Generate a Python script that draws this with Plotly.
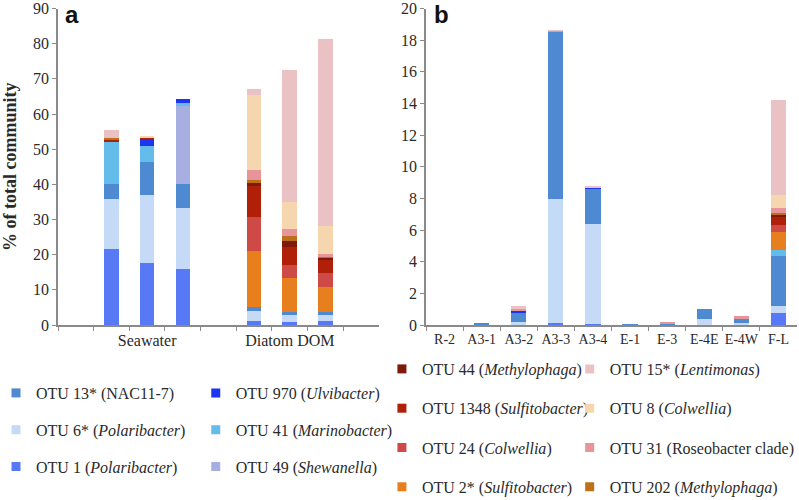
import plotly.graph_objects as go

# ---------------- data ----------------
a_samples = ["Seawater 1", "Seawater 2", "Seawater 3", "Diatom DOM 1", "Diatom DOM 2", "Diatom DOM 3"]
a_slots = ["gap0", "Seawater 1", "Seawater 2", "Seawater 3", "gap1",
           "Diatom DOM 1", "Diatom DOM 2", "Diatom DOM 3", "gap2"]
a_slot_labels = ["", "", "Seawater", "", "", "", "Diatom DOM", "", ""]
b_samples = ["R-2", "A3-1", "A3-2", "A3-3", "A3-4", "E-1", "E-3", "E-4E", "E-4W", "F-L"]

otu_names = [
    "OTU 1 (<i>Polaribacter</i>)",
    "OTU 6* (<i>Polaribacter</i>)",
    "OTU 13* (NAC11-7)",
    "OTU 49 (<i>Shewanella</i>)",
    "OTU 41 (<i>Marinobacter</i>)",
    "OTU 970 (<i>Ulvibacter</i>)",
    "OTU 2* (<i>Sulfitobacter</i>)",
    "OTU 24 (<i>Colwellia</i>)",
    "OTU 1348 (<i>Sulfitobacter</i>)",
    "OTU 44 (<i>Methylophaga</i>)",
    "OTU 202 (<i>Methylophaga</i>)",
    "OTU 31 (Roseobacter clade)",
    "OTU 8 (<i>Colwellia</i>)",
    "OTU 15* (<i>Lentimonas</i>)",
]
otu_colors = ["#5779F6", "#C4DAF6", "#4E8AD2", "#A7AEE2", "#64BCEA", "#1C35F2",
              "#E77F1E", "#CD4A47", "#B02008", "#7E1A0C", "#BD7019", "#E7959A",
              "#F5D6AE", "#EBC2C4"]

# panel a values (% of total community)
a_otu1 = [21.5, 17.7, 15.8, 1.2, 0.9, 1.2]
a_otu6 = [14.2, 19.4, 17.5, 2.8, 2.2, 1.6]
a_otu13 = [4.5, 9.3, 6.9, 1.0, 0.5, 0.8]
a_otu49 = [0, 0, 22.0, 0, 0, 0]
a_otu41 = [11.9, 4.5, 0.8, 0, 0, 0]
a_otu970 = [0, 2.3, 1.3, 0, 0, 0]
a_otu2 = [0, 0, 0, 16.1, 9.8, 7.1]
a_otu24 = [0, 0, 0, 9.7, 3.8, 4.2]
a_otu1348 = [0.7, 0.2, 0, 8.8, 5.0, 3.5]
a_otu44 = [0, 0, 0, 0.8, 1.7, 0.8]
a_otu202 = [0.5, 0, 0, 0.8, 1.4, 0.2]
a_otu31 = [0, 0, 0, 3.0, 2.1, 0.7]
a_otu8 = [0, 0.3, 0, 21.3, 7.6, 8.0]
a_otu15 = [2.1, 0, 0, 1.5, 37.4, 53.1]

# panel b values
b_otu1 = [0, 0.02, 0, 0.1, 0.08, 0.03, 0.05, 0, 0, 0.78]
b_otu6 = [0, 0.03, 0.2, 7.86, 6.28, 0, 0, 0.36, 0.12, 0.42]
b_otu13 = [0, 0.08, 0.54, 10.61, 2.27, 0.05, 0.07, 0.65, 0.32, 3.16]
b_otu49 = [0, 0, 0, 0, 0, 0, 0, 0, 0, 0]
b_otu41 = [0, 0, 0, 0, 0, 0, 0, 0, 0.03, 0.38]
b_otu970 = [0, 0, 0.14, 0, 0.07, 0, 0, 0, 0, 0]
b_otu2 = [0, 0, 0, 0, 0, 0, 0, 0, 0, 1.16]
b_otu24 = [0, 0, 0, 0, 0, 0, 0, 0, 0, 0.45]
b_otu1348 = [0, 0, 0, 0, 0, 0, 0, 0, 0, 0.49]
b_otu44 = [0, 0, 0, 0, 0, 0, 0, 0, 0, 0.16]
b_otu202 = [0, 0, 0, 0, 0, 0, 0, 0, 0, 0.1]
b_otu31 = [0, 0, 0.22, 0.07, 0.03, 0, 0.1, 0, 0.1, 0.27]
b_otu8 = [0, 0, 0, 0, 0, 0, 0, 0, 0, 0.83]
b_otu15 = [0, 0, 0.1, 0.03, 0.03, 0, 0, 0, 0, 6.0]

a_values = [a_otu1, a_otu6, a_otu13, a_otu49, a_otu41, a_otu970, a_otu2, a_otu24,
            a_otu1348, a_otu44, a_otu202, a_otu31, a_otu8, a_otu15]
b_values = [b_otu1, b_otu6, b_otu13, b_otu49, b_otu41, b_otu970, b_otu2, b_otu24,
            b_otu1348, b_otu44, b_otu202, b_otu31, b_otu8, b_otu15]

# legend placement: which legend box each OTU belongs to (order within box)
legend_columns = {
    "legend": ["OTU 13* (NAC11-7)", "OTU 6* (<i>Polaribacter</i>)", "OTU 1 (<i>Polaribacter</i>)"],
    "legend2": ["OTU 970 (<i>Ulvibacter</i>)", "OTU 41 (<i>Marinobacter</i>)", "OTU 49 (<i>Shewanella</i>)"],
    "legend3": ["OTU 44 (<i>Methylophaga</i>)", "OTU 1348 (<i>Sulfitobacter</i>)",
                "OTU 24 (<i>Colwellia</i>)", "OTU 2* (<i>Sulfitobacter</i>)"],
    "legend4": ["OTU 15* (<i>Lentimonas</i>)", "OTU 8 (<i>Colwellia</i>)",
                "OTU 31 (Roseobacter clade)", "OTU 202 (<i>Methylophaga</i>)"],
}

# ---------------- figure ----------------
fig = go.Figure()
for name, color, av, bv in zip(otu_names, otu_colors, a_values, b_values):
    fig.add_trace(go.Bar(x=a_samples, y=av, name=name, marker=dict(color=color, line=dict(width=0)),
                         legendgroup=name, showlegend=False, xaxis="x", yaxis="y"))
    fig.add_trace(go.Bar(x=b_samples, y=bv, name=name, marker=dict(color=color, line=dict(width=0)),
                         legendgroup=name, showlegend=False, xaxis="x2", yaxis="y2"))

for leg, names in legend_columns.items():
    for name in names:
        color = otu_colors[otu_names.index(name)]
        fig.add_trace(go.Scatter(x=[None], y=[None], mode="markers", name=name,
                                 marker=dict(symbol="square", size=9, color=color),
                                 legendgroup=name, showlegend=True, legend=leg,
                                 xaxis="x2", yaxis="y2"))

serif = "Liberation Serif"
axis_color = "#8a8a8a"
text_color = "#2a2a2a"

fig.update_layout(
    width=799, height=500,
    margin=dict(l=0, r=0, t=0, b=0, autoexpand=False),
    paper_bgcolor="white", plot_bgcolor="white",
    barmode="stack", bargap=0.59,
    font=dict(family=serif, size=16, color=text_color),
    xaxis=dict(domain=[0.0726, 0.4743], type="category", categoryorder="array",
               categoryarray=a_slots, range=[-0.5, 8.5],
               tickmode="array", tickvals=a_slots, ticktext=a_slot_labels, tickangle=0,
               tickson="boundaries", ticks="outside", ticklen=4, tickcolor=axis_color,
               showline=True, linecolor=axis_color, linewidth=1.5, showgrid=False,
               tickfont=dict(family=serif, size=16, color=text_color)),
    yaxis=dict(domain=[0.35, 0.983], range=[0, 90], dtick=10, ticks="outside", ticklen=4,
               tickcolor=axis_color, showline=True, linecolor=axis_color, linewidth=1.5,
               showgrid=False, zeroline=False,
               tickfont=dict(family=serif, size=16, color=text_color),
               title=dict(text="<b>% of total community</b>",
                          font=dict(family=serif, size=18, color=text_color), standoff=12)),
    xaxis2=dict(domain=[0.5332, 0.9975], type="category", categoryorder="array",
                categoryarray=b_samples, range=[-0.5, 9.5], tickangle=0,
                tickson="boundaries", ticks="outside", ticklen=4, tickcolor=axis_color,
                showline=True, linecolor=axis_color, linewidth=1.5, showgrid=False,
                tickfont=dict(family=serif, size=14, color=text_color)),
    yaxis2=dict(domain=[0.35, 0.983], range=[0, 20], dtick=2, ticks="outside", ticklen=4,
                tickcolor=axis_color, showline=True, linecolor=axis_color, linewidth=1.5,
                showgrid=False, zeroline=False, anchor="x2",
                tickfont=dict(family=serif, size=16, color=text_color)),
    annotations=[
        dict(text="<b>a</b>", x=0.080, y=1.0, xref="paper", yref="paper",
             xanchor="left", yanchor="top", showarrow=False, borderpad=0,
             font=dict(family="Liberation Sans", size=24, color="#111")),
        dict(text="<b>b</b>", x=0.542, y=1.0, xref="paper", yref="paper",
             xanchor="left", yanchor="top", showarrow=False, borderpad=0,
             font=dict(family="Liberation Sans", size=24, color="#111")),
    ],
)

leg_common = dict(font=dict(family=serif, size=16, color=text_color), bgcolor="rgba(0,0,0,0)",
                  orientation="v", xanchor="left", yanchor="top", itemclick="toggle",
                  traceorder="grouped")
fig.update_layout(
    legend=dict(x=-0.005, y=0.248, tracegroupgap=13, **leg_common),
    legend2=dict(x=0.245, y=0.248, tracegroupgap=13, **leg_common),
    legend3=dict(x=0.478, y=0.296, tracegroupgap=15.5, **leg_common),
    legend4=dict(x=0.713, y=0.296, tracegroupgap=15.5, **leg_common),
)

fig.write_html("out.html", config={"displayModeBar": False},
               post_script="document.body.style.margin='0';document.body.style.overflow='hidden';")
